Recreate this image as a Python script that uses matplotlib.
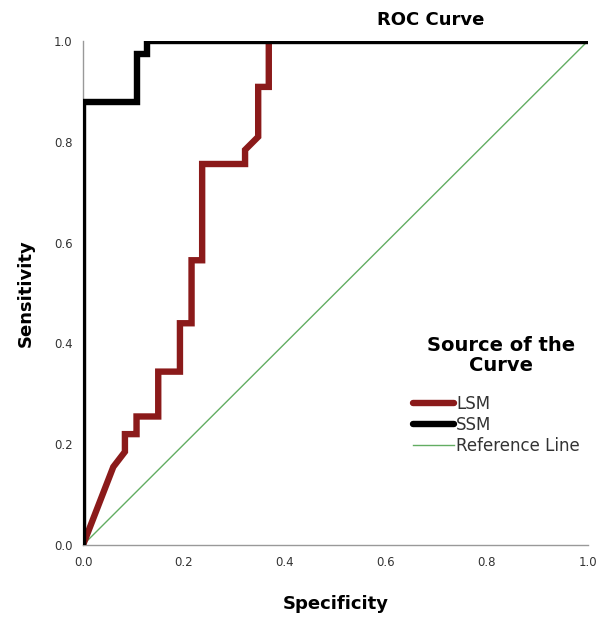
import matplotlib
matplotlib.use("Agg")
import matplotlib.pyplot as plt

plt.rcParams['font.family'] = ['DejaVu Sans']

# LSM ROC curve (x = 1 - specificity, y = sensitivity)
lsm_x = [0.0, 0.06, 0.083, 0.083, 0.100, 0.106, 0.106, 0.149, 0.149, 0.192, 0.192,
         0.215, 0.215, 0.236, 0.236, 0.321, 0.321, 0.347, 0.347, 0.368, 0.368]
lsm_y = [0.0, 0.155, 0.185, 0.22, 0.22, 0.22, 0.255, 0.255, 0.344, 0.344, 0.44,
         0.44, 0.565, 0.565, 0.756, 0.756, 0.784, 0.81, 0.909, 0.909, 1.0]

# SSM ROC curve
ssm_x = [0.0, 0.0, 0.106, 0.106, 0.127, 0.127, 1.0]
ssm_y = [0.0, 0.88, 0.88, 0.974, 0.974, 1.0, 1.0]

ref_x = [0.0, 1.0]
ref_y = [0.0, 1.0]

ticks = [0.0, 0.2, 0.4, 0.6, 0.8, 1.0]
tick_labels = ["0.0", "0.2", "0.4", "0.6", "0.8", "1.0"]

fig = plt.figure(figsize=(6.06, 6.17), dpi=100)
ax = fig.add_axes([0.137, 0.1167, 0.833, 0.8168])

ax.plot(ref_x, ref_y, color='#62ad62', lw=1.0, label='Reference Line', zorder=2)
ax.plot(lsm_x, lsm_y, color='#8b1a1a', lw=4.6, label='LSM', zorder=3,
        solid_joinstyle='miter', solid_capstyle='round')
ax.plot(ssm_x, ssm_y, color='#000000', lw=4.6, label='SSM', zorder=4,
        solid_joinstyle='miter', solid_capstyle='round')

ax.set_xlim(0, 1)
ax.set_ylim(0, 1)
ax.set_xticks(ticks)
ax.set_xticklabels(tick_labels)
ax.set_yticks(ticks)
ax.set_yticklabels(tick_labels)
ax.tick_params(length=0, labelsize=8.5, colors='#333333')
ax.tick_params(axis='y', pad=7.5)
ax.tick_params(axis='x', pad=8)
for s in ['top', 'right']:
    ax.spines[s].set_visible(False)
for s in ['left', 'bottom']:
    ax.spines[s].set_color('#999999')
    ax.spines[s].set_linewidth(1.0)

ax.set_xlabel('Specificity', fontsize=13, fontweight='bold', labelpad=19)
ax.set_ylabel('Sensitivity', fontsize=13, fontweight='bold', labelpad=14)
fig.text(0.711, 0.967, 'ROC Curve', fontsize=13, fontweight='bold',
         ha='center', va='center')

# legend title drawn as separate text for spacing control
ax.text(0.828, 0.376, 'Source of the\nCurve', transform=ax.transAxes,
        fontsize=14, fontweight='bold', ha='center', va='center',
        linespacing=1.1)

handles, labels = ax.get_legend_handles_labels()
order = [1, 2, 0]
leg = ax.legend([handles[i] for i in order], [labels[i] for i in order],
                loc='upper left',
                bbox_to_anchor=(0.653, 0.2986), frameon=False, fontsize=12,
                borderpad=0, borderaxespad=0,
                handlelength=2.5, handletextpad=0.1, labelspacing=0.2)
for t in leg.get_texts():
    t.set_color('#333333')

fig.savefig('out.png', dpi=100, facecolor='white')
